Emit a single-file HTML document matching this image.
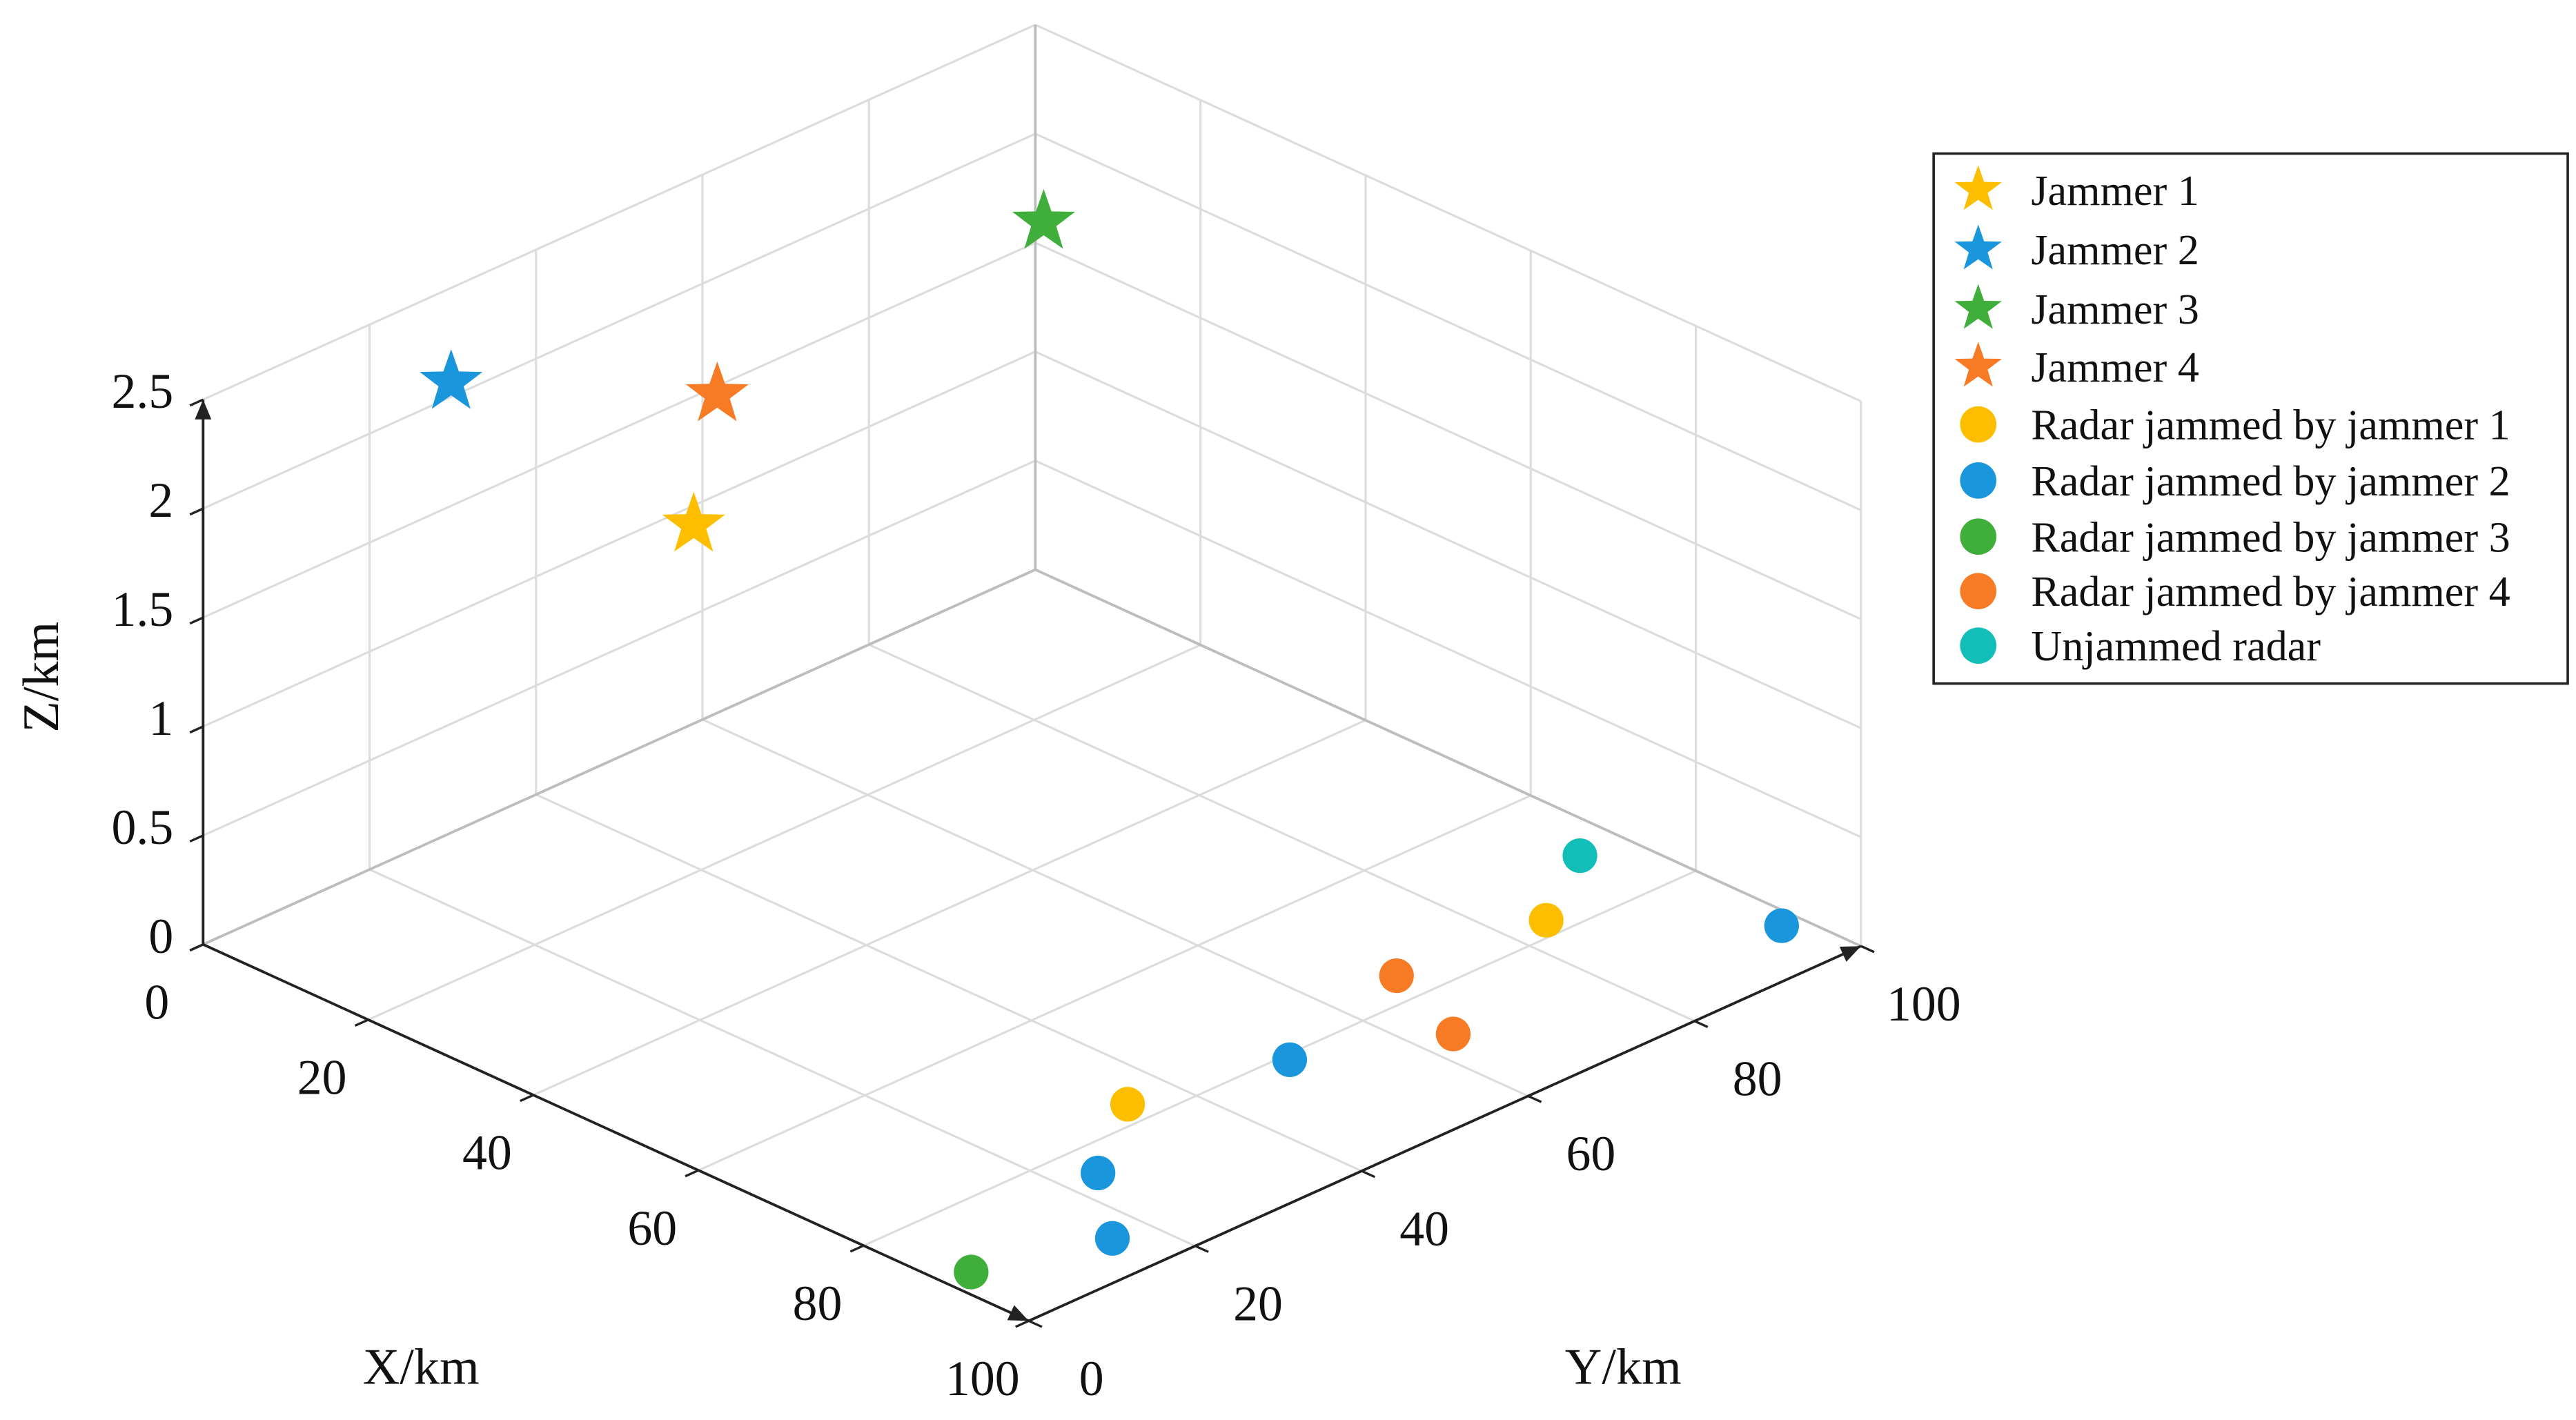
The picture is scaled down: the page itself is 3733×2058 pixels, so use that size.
<!DOCTYPE html>
<html><head><meta charset="utf-8"><style>
html,body{margin:0;padding:0;background:#fff}
svg{display:block}
text{font-family:"Liberation Serif",serif;fill:#111}
</style></head><body>
<svg id="chart" width="3733" height="2058" viewBox="0 0 1560 860" xmlns="http://www.w3.org/2000/svg">
<g id="grid"></g>
<g id="axes"></g>
<g id="marks"></g>
<g id="legend"></g>
</svg>
<script>
const xTicks=[0,20,40,60,80,100];
const yTicks=[0,20,40,60,80,100];
const zTicks=[0,0.5,1,1.5,2,2.5];
const zTickLabels=["0","0.5","1","1.5","2","2.5"];
const seriesNames=["Jammer 1","Jammer 2","Jammer 3","Jammer 4","Radar jammed by jammer 1","Radar jammed by jammer 2","Radar jammed by jammer 3","Radar jammed by jammer 4","Unjammed radar"];
const seriesColors=["#FDBE00","#1A96DC","#3FAE3A","#F77A25","#FDBE00","#1A96DC","#3FAE3A","#F77A25","#12BFB8"];
const seriesMarker=["star","star","star","star","dot","dot","dot","dot","dot"];
const jammerX=[31.7,12.6,12.3,15.7];
const jammerY=[27.5,17.3,88.8,46.2];
const jammerZ=[2,2.5,2,2];
const radarX=[77,77.6, 94,84.4,80.8,92.5, 90, 87.2,76, 71];
const radarY=[34.7,84.4, 16,23.8,50.4,97.9, 3, 63.7,68, 95];
const radarGroup=[4,4,5,5,5,5,6,7,7,8];

const NS="http://www.w3.org/2000/svg";
function P(x,y,z){return [123+5.0*x+5.04*y, 572+2.28*x-2.27*y-132*z];}
function el(tag,attrs,parent,txt){const e=document.createElementNS(NS,tag);for(const k in attrs)e.setAttribute(k,attrs[k]);if(txt!==undefined)e.textContent=txt;parent.appendChild(e);return e;}
const grid=document.getElementById('grid'),axes=document.getElementById('axes'),marks=document.getElementById('marks'),legend=document.getElementById('legend');
function line(a,b,parent,stroke,w){const l=el('line',{x1:a[0],y1:a[1],x2:b[0],y2:b[1],stroke:stroke,'stroke-width':w},parent);return l;}
const gc="#dcdcdc";
// floor
xTicks.forEach(x=>{const l=line(P(x,0,0),P(x,100,0),grid,gc,1.3);});
yTicks.forEach(y=>{const l=line(P(0,y,0),P(100,y,0),grid,gc,1.3);});
// left wall x=0
yTicks.forEach(y=>{const l=line(P(0,y,0),P(0,y,2.5),grid,gc,1.3);});
zTicks.forEach(z=>{const l=line(P(0,0,z),P(0,100,z),grid,gc,1.3);});
// right wall y=100
xTicks.forEach(x=>{const l=line(P(x,100,0),P(x,100,2.5),grid,gc,1.3);});
zTicks.forEach(z=>{const l=line(P(0,100,z),P(100,100,z),grid,gc,1.3);});
// back edges
[[P(0,100,0),P(0,100,2.5)],[P(0,0,0),P(0,100,0)],[P(0,100,0),P(100,100,0)]].forEach(s=>{const l=line(s[0],s[1],grid,"#bdbdbd",1.6);});
// axes
const ac="#222";
function arrow(tip,dx,dy){const n=Math.hypot(dx,dy);dx/=n;dy/=n;const L=12,W=5;const p=`${tip[0]},${tip[1]} ${tip[0]-dx*L-dy*W},${tip[1]-dy*L+dx*W} ${tip[0]-dx*L+dy*W},${tip[1]-dy*L-dx*W}`;const a=el('polygon',{points:p,fill:ac},axes);}
let o=P(0,0,0),xe=P(100,0,0),ye=P(100,100,0),ze=P(0,0,2.5);
let l1=line(o,xe,axes,ac,1.6);
let l2=line(xe,ye,axes,ac,1.6);
let l3=line(o,ze,axes,ac,1.6);
arrow(xe,xe[0]-o[0],xe[1]-o[1]);arrow(ye,ye[0]-xe[0],ye[1]-xe[1]);arrow(ze,0,-1);
// ticks & labels
xTicks.forEach(x=>{const a=P(x,0,0);const t=line(a,[a[0]-8,a[1]+3.6],axes,ac,1.4);
 const tx=el('text',{x:a[0]-28,y:a[1]+45,'font-size':30,'text-anchor':'middle'},axes,String(x));});
yTicks.forEach(y=>{const a=P(100,y,0);const t=line(a,[a[0]+8,a[1]+3.6],axes,ac,1.4);
 const tx=el('text',{x:a[0]+38,y:a[1]+45,'font-size':30,'text-anchor':'middle'},axes,String(y));});
zTicks.forEach((z,i)=>{const a=P(0,0,z);const t=line(a,[a[0]-8,a[1]+3.6],axes,ac,1.4);
 const tx=el('text',{x:a[0]-18,y:a[1]+5,'font-size':30,'text-anchor':'end'},axes,zTickLabels[i]);});
let xt=el('text',{x:255,y:838,'font-size':31,'text-anchor':'middle'},axes,'X/km');
let yt=el('text',{x:983,y:838,'font-size':31,'text-anchor':'middle'},axes,'Y/km');
let zt=el('text',{x:0,y:0,'font-size':31,'text-anchor':'middle',transform:'translate(35,410) rotate(-90)'},axes,'Z/km');
// markers
function star(cx,cy,r,color,parent){let pts=[];for(let i=0;i<10;i++){const rr=i%2?r*0.4:r;const a=-Math.PI/2+i*Math.PI/5;pts.push((cx+rr*Math.cos(a)).toFixed(2)+','+(cy+rr*Math.sin(a)).toFixed(2));}return el('polygon',{points:pts.join(' '),fill:color},parent);}
jammerX.forEach((x,i)=>{const p=P(x,jammerY[i],jammerZ[i]);const s=star(p[0],p[1],20,seriesColors[i],marks);});
radarX.forEach((x,i)=>{const p=P(x,radarY[i],0);const c=el('circle',{cx:p[0],cy:p[1],r:10.5,fill:seriesColors[radarGroup[i]]},marks);});
// legend
const box=el('rect',{x:1171,y:93,width:384,height:321,fill:'#fff',stroke:'#222','stroke-width':1.5},legend);

const rowY=[115,151,187,222,257,291,325,358,391];
seriesNames.forEach((n,i)=>{const g=el('g',{},legend);
 if(seriesMarker[i]=='star')star(1198,rowY[i],15,seriesColors[i],g);else el('circle',{cx:1198,cy:rowY[i],r:11,fill:seriesColors[i]},g);
 el('text',{x:1230,y:rowY[i]+9,'font-size':26},g,n);});
</script>
</body></html>
